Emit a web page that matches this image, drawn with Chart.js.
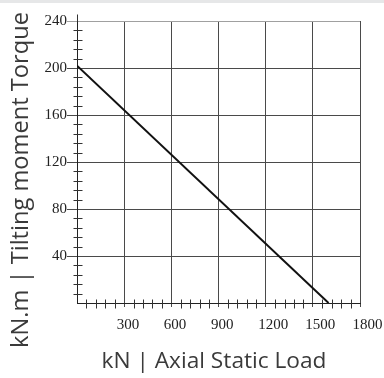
<!DOCTYPE html>
<html>
<head>
<meta charset="utf-8">
<script src="https://cdn.jsdelivr.net/npm/chart.js@4.4.1/dist/chart.umd.min.js"></script>
<style>
  html, body { margin: 0; padding: 0; background: #fff; }
  .band { position: absolute; left: 0; top: 0; width: 384px; height: 3px; background: #e6e7e8; }
  .wrap { position: absolute; left: 0; top: 0; width: 384px; height: 378px; }
</style>
</head>
<body>
<div class="band"></div>
<div class="wrap"><canvas id="torqueChart" width="384" height="378"></canvas></div>
<script>
// load curve: axial static load (kN) vs tilting moment (kN.m)
const axialLoad = [0, 1600];
const tiltingTorque = [202, 0];
const xTicks = [300, 600, 900, 1200, 1500, 1800];
const yTicks = [40, 80, 120, 160, 200, 240];
const xMinorStep = 60;
const yMinorStep = 8;
const xTitle = 'kN | Axial Static Load';
const yTitle = 'kN.m | Tilting moment Torque';

const lineColor = '#4a4a4a';
const titleFamily = '"Open Sans"';

// pick a font size so the title spans the given width
function fitFont(ctx, text, width) {
  ctx.font = '20px ' + titleFamily;
  const size = 20 * width / ctx.measureText(text).width;
  ctx.font = size.toFixed(2) + 'px ' + titleFamily;
}

const minorTicks = {
  id: 'minorTicks',
  afterDraw(chart) {
    const { ctx, scales: { x, y } } = chart;
    const x0 = Math.round(x.getPixelForValue(0)) + 0.5;
    const y0 = Math.round(y.getPixelForValue(0)) + 0.5;
    const yTop = Math.round(y.getPixelForValue(240)) + 0.5;
    ctx.save();
    ctx.strokeStyle = '#333';
    ctx.lineWidth = 1;
    ctx.beginPath();
    for (let v = yMinorStep; v < 240; v += yMinorStep) {
      if (v % 40 === 0) continue;
      const py = Math.round(y.getPixelForValue(v)) + 0.5;
      ctx.moveTo(x0 - 4, py);
      ctx.lineTo(x0 + 5, py);
    }
    for (let v = xMinorStep; v < 1800; v += xMinorStep) {
      if (v % 300 === 0) continue;
      const px = Math.round(x.getPixelForValue(v)) + 0.5;
      ctx.moveTo(px, y0 - 4);
      ctx.lineTo(px, y0 + 5);
    }
    // y axis runs a little past the top
    ctx.moveTo(x0, yTop);
    ctx.lineTo(x0, yTop - 7);
    ctx.stroke();

    ctx.fillStyle = '#3a3a3a';
    ctx.textAlign = 'center';
    ctx.textBaseline = 'alphabetic';
    fitFont(ctx, xTitle, 225);
    ctx.fillText(xTitle, 214, 368);
    ctx.translate(28, 180);
    ctx.rotate(-Math.PI / 2);
    fitFont(ctx, yTitle, 336);
    ctx.fillText(yTitle, 0, 0);
    ctx.restore();
  }
};

new Chart(document.getElementById('torqueChart'), {
  type: 'scatter',
  data: {
    datasets: [{
      data: axialLoad.map((v, i) => ({ x: v, y: tiltingTorque[i] })),
      showLine: true,
      borderColor: '#111',
      borderWidth: 2,
      pointRadius: 0
    }]
  },
  options: {
    responsive: false,
    animation: false,
    devicePixelRatio: 1,
    layout: { padding: { top: 21, right: 24, left: 0, bottom: 0 } },
    plugins: { legend: { display: false }, tooltip: { enabled: false } },
    scales: {
      x: {
        type: 'linear',
        min: 0,
        max: 1800,
        afterBuildTicks: s => { s.ticks = xTicks.map(v => ({ value: v })); },
        afterFit: s => { s.height = 75; s.paddingLeft = 0; s.paddingRight = 0; },
        grid: { color: lineColor, lineWidth: 1, tickLength: 4, tickColor: lineColor },
        border: { color: '#222', width: 1 },
        ticks: {
          font: { family: 'Liberation Serif', size: 15 },
          color: '#222',
          align: 'start',
          labelOffset: -7.5,
          padding: 9,
          maxRotation: 0,
          callback: v => String(v)
        }
      },
      y: {
        type: 'linear',
        min: 0,
        max: 240,
        afterBuildTicks: s => { s.ticks = yTicks.map(v => ({ value: v })); },
        afterFit: s => { s.width = 77; },
        grid: {
          color: c => (c.tick && c.tick.value === 240 ? '#a0a0a0' : lineColor),
          lineWidth: 1,
          tickLength: 10
        },
        border: { color: '#222', width: 1 },
        ticks: {
          font: { family: 'Liberation Serif', size: 15 },
          color: '#222',
          padding: 0,
          callback: v => String(v)
        }
      }
    }
  },
  plugins: [minorTicks]
});
</script>
</body>
</html>
